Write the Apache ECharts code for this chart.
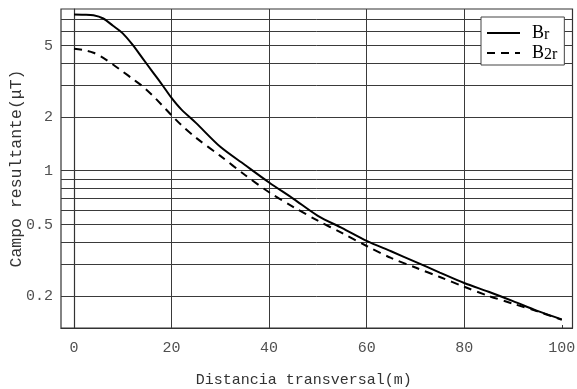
<!DOCTYPE html>
<html>
<head>
<meta charset="utf-8">
<script src="https://cdn.jsdelivr.net/npm/echarts@6/dist/echarts.min.js"></script>
<style>
  html, body { margin: 0; padding: 0; background: #fff; }
  #chart { width: 577px; height: 389px; }
</style>
</head>
<body>
<div id="chart"></div>
<script>
// Transverse distance (m) at which the field was evaluated
const distance = [0, 2, 4, 6, 8, 10, 12, 14, 16, 18, 20, 22, 25, 30, 35, 40, 45, 50, 55, 60, 65, 70, 75, 80, 85, 90, 95, 100];
// Resultant field B_r (µT)
const fieldBr = [7.46, 7.44, 7.38, 7.08, 6.45, 5.85, 5.06, 4.27, 3.6, 3.04, 2.55, 2.2, 1.85, 1.36, 1.08, 0.86, 0.697, 0.56, 0.478, 0.406, 0.355, 0.31, 0.27, 0.236, 0.211, 0.187, 0.165, 0.148];
// Resultant field B_2r (µT)
const fieldB2r = [4.8, 4.72, 4.56, 4.27, 3.92, 3.58, 3.26, 2.97, 2.65, 2.33, 2.04, 1.8, 1.53, 1.21, 0.95, 0.758, 0.627, 0.526, 0.448, 0.38, 0.326, 0.288, 0.255, 0.225, 0.2, 0.181, 0.164, 0.147];

const xTickLabels = [0, 20, 40, 60, 80, 100];
const xGridValues = [20, 40, 60, 80];
const yTickLabels = [0.2, 0.5, 1, 2, 5];
const yGridValues = [0.2, 0.3, 0.4, 0.5, 0.6, 0.7, 0.8, 0.9, 1, 2, 3, 4, 5, 6, 7];

const mono = '"Liberation Mono", "Courier New", monospace';
const serif = '"Liberation Serif", "Times New Roman", serif';
const gridColor = '#3a3a3a';

const toPairs = (ys) => distance.map((x, i) => [x, ys[i]]);

const gridLines = yGridValues.map(v => ({ yAxis: v }))
  .concat(xGridValues.map(v => ({ xAxis: v })));

const chart = echarts.init(document.getElementById('chart'), null, { renderer: 'canvas' });

chart.setOption({
  animation: false,
  backgroundColor: '#fff',
  grid: {
    left: 61, right: 4.5, top: 9, bottom: 61,
    containLabel: false,
    outerBoundsMode: 'none',
    show: true, borderColor: '#333', borderWidth: 1.2, backgroundColor: 'transparent'
  },
  legend: {
    orient: 'vertical',
    left: 481, top: 17,
    padding: [7, 7, 2, 5],
    itemGap: 1,
    itemWidth: 33,
    itemHeight: 16,
    backgroundColor: '#fff',
    borderColor: '#444',
    borderWidth: 1,
    selectedMode: false,
    itemStyle: { opacity: 0 },
    formatter: (name) => name === 'Br' ? '{b|B}{s|r}' : '{b|B}{s|2r}',
    textStyle: {
      color: '#000',
      fontFamily: serif,
      rich: {
        b: { fontSize: 18, fontFamily: serif, color: '#000', lineHeight: 20, verticalAlign: 'middle', padding: [0, 0, 0, 7] },
        s: { fontSize: 16, fontFamily: serif, color: '#000', lineHeight: 12, verticalAlign: 'bottom' }
      }
    },
    data: ['Br', 'B2r']
  },
  xAxis: {
    type: 'value',
    min: -2.66, max: 102.2,
    name: 'Distancia transversal(m)',
    nameLocation: 'middle',
    nameGap: 45,
    nameMoveOverlap: false,
    nameTextStyle: { fontFamily: mono, fontSize: 15, color: '#333', padding: [0, 26, 0, 0] },
    axisLine: { show: true, lineStyle: { color: '#333', width: 1.2 } },
    axisTick: { show: true, inside: true, length: 3, customValues: xTickLabels, lineStyle: { color: '#333' } },
    axisLabel: {
      customValues: xTickLabels,
      fontFamily: mono, fontSize: 15, color: '#505050', margin: 13
    },
    splitLine: { show: false }
  },
  yAxis: {
    type: 'log',
    min: 0.1324, max: 8,
    name: 'Campo resultante(\u03bcT)',
    nameLocation: 'middle',
    nameGap: 36,
    nameMoveOverlap: false,
    nameTextStyle: { fontFamily: mono, fontSize: 16.5, color: '#333' },
    axisLine: { show: true, lineStyle: { color: '#333', width: 1.2 } },
    axisTick: { show: false },
    axisLabel: {
      customValues: yTickLabels,
      formatter: (v) => String(+Number(v).toPrecision(3)),
      fontFamily: mono, fontSize: 15, color: '#505050', margin: 8
    },
    splitLine: { show: false },
    minorSplitLine: { show: false }
  },
  series: [
    {
      name: 'Br',
      type: 'line',
      data: toPairs(fieldBr),
      smooth: 0.3,
      symbol: 'none',
      z: 3,
      lineStyle: { color: '#000', width: 2, type: 'solid' },
      itemStyle: { color: '#000' },
      markLine: {
        silent: true,
        z: 1,
        symbol: ['none', 'none'],
        label: { show: false },
        lineStyle: { color: gridColor, width: 1, type: 'solid' },
        emphasis: { disabled: true },
        data: gridLines
      }
    },
    {
      name: 'B2r',
      type: 'line',
      data: toPairs(fieldB2r),
      smooth: 0.3,
      symbol: 'none',
      z: 3,
      lineStyle: { color: '#000', width: 2, type: [8, 6] },
      itemStyle: { color: '#000' }
    }
  ]
});
</script>
</body>
</html>
